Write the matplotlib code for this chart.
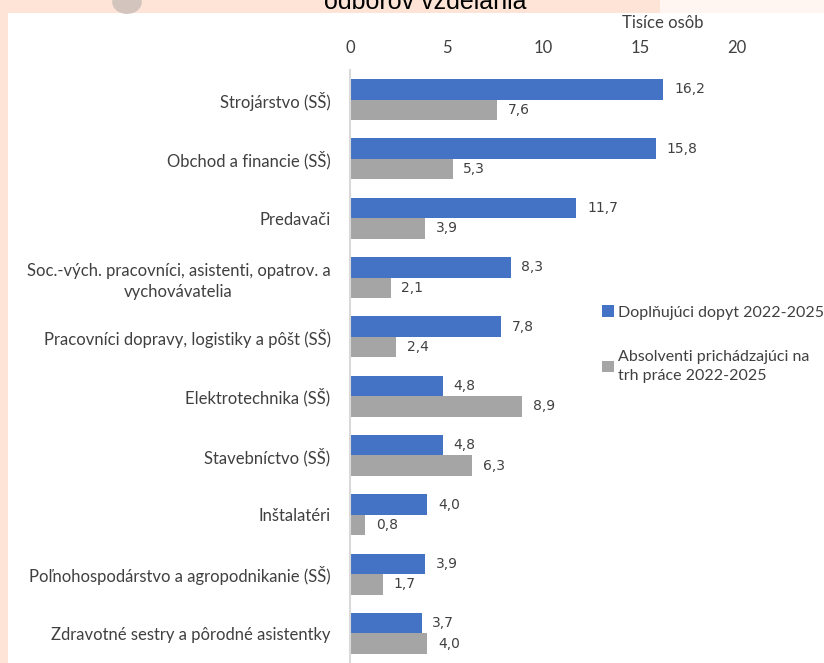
import matplotlib.pyplot as plt
import matplotlib.patches as mpatches
import numpy as np

categories = [
    "Strojárstvo (SŠ)",
    "Obchod a financie (SŠ)",
    "Predavači",
    "Soc.-vých. pracovníci, asistenti, opatrov. a\nvychovávatelia",
    "Pracovníci dopravy, logistiky a pôšt (SŠ)",
    "Elektrotechnika (SŠ)",
    "Stavebníctvo (SŠ)",
    "Inštalatéri",
    "Poľnohospodárstvo a agropodnikanie (SŠ)",
    "Zdravotné sestry a pôrodné asistentky",
]
demand = [16.2, 15.8, 11.7, 8.3, 7.8, 4.8, 4.8, 4.0, 3.9, 3.7]
graduates = [7.6, 5.3, 3.9, 2.1, 2.4, 8.9, 6.3, 0.8, 1.7, 4.0]
series_names = ["Doplňujúci dopyt 2022-2025",
                "Absolventi prichádzajúci na\ntrh práce 2022-2025"]
xticks = [0, 5, 10, 15, 20]
title = "odborov vzdelania"
unit_label = "Tisíce osôb"

W, H = 824, 663
fig = plt.figure(figsize=(W / 100, H / 100), dpi=100)
fig.patch.set_facecolor("#FDE4D6")
# white slide area
fig.add_artist(mpatches.Rectangle((8 / W, 0), 1, 1 - 13 / H, transform=fig.transFigure,
                                  facecolor="white", edgecolor="none", zorder=0))
# faint decoration
fig.add_artist(mpatches.Circle((127 / W, 1 - 2 / H), 0.018, transform=fig.transFigure,
                               facecolor="#D4C4BE", edgecolor="none", zorder=0))
fig.add_artist(mpatches.Rectangle((660 / W, 1 - 13 / H), 170 / W, 13 / H, transform=fig.transFigure,
                                  facecolor="#FFF6F1", edgecolor="none", zorder=0))

ax = fig.add_axes([350 / W, 0, (737 - 350) / W, 1 - 70 / H])
ax.set_facecolor("none")

n = len(categories)
y = np.arange(n)
h = 0.345
blue = "#4472C4"
gray = "#A5A5A5"
b1 = ax.barh(y - h / 2, demand, height=h, color=blue, label=series_names[0])
b2 = ax.barh(y + h / 2, graduates, height=h, color=gray, label=series_names[1])

lab_font = dict(fontsize=10, color="#404040", family="DejaVu Sans")
for yi, v in zip(y, demand):
    ax.text(v + 0.55, yi - h / 2, f"{v:.1f}".replace(".", ","), va="center", ha="left", **lab_font)
for yi, v in zip(y, graduates):
    ax.text(v + 0.55, yi + h / 2, f"{v:.1f}".replace(".", ","), va="center", ha="left", **lab_font)

ax.set_ylim(n - 0.5, -0.5)
ax.set_xlim(0, 20)
ax.set_yticks(y)
ax.set_yticklabels(categories, fontsize=12, color="#404040", family="Lato",
                   multialignment="center", linespacing=1.35)
ax.xaxis.tick_top()
ax.set_xticks(xticks)
ax.set_xticklabels([str(t) for t in xticks], fontsize=12, color="#404040", family="Lato")
ax.tick_params(axis="both", length=0)
ax.tick_params(axis="x", pad=10)
ax.tick_params(axis="y", pad=14)
for s in ["top", "right", "bottom"]:
    ax.spines[s].set_visible(False)
ax.spines["left"].set_color("#D9D9D9")
ax.spines["left"].set_linewidth(1.5)

fig.text(663 / W, 1 - 23 / H, unit_label, ha="center", va="center", fontsize=12,
         color="#404040", family="Lato")
fig.text(425 / W, 1 - 9 / H, title, ha="center", va="baseline", fontsize=18,
         color="black", family="Liberation Sans")

leg = fig.legend(handles=[b1, b2], labels=series_names, loc="upper left",
                 bbox_to_anchor=(588 / W, 1 - 291 / H), frameon=False,
                 prop={"family": "Lato", "size": 11.5}, handlelength=0.7, handleheight=0.7,
                 handletextpad=0.3, labelspacing=1.9, labelcolor="#404040")
for t in leg.get_texts():
    t.set_linespacing(1.5)

fig.savefig("out.png", dpi=100, facecolor=fig.get_facecolor())
